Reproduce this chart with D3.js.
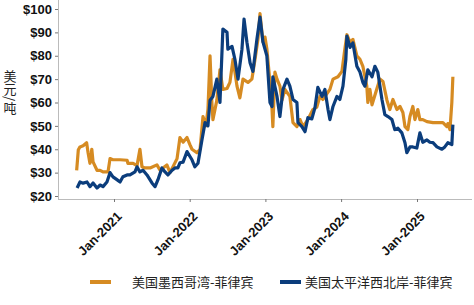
<!DOCTYPE html>
<html>
<head>
<meta charset="utf-8">
<script src="https://cdn.jsdelivr.net/npm/d3@7"></script>
<style>
  body { margin: 0; background: #fff; }
  svg { display: block; font-family: "Liberation Sans", Arial, sans-serif; }
</style>
</head>
<body>
<svg width="474" height="305"></svg>
<script>
// 美国墨西哥湾-菲律宾
const gulfDates = ['2020-07-05','2020-07-13','2020-07-21','2020-08-05','2020-08-22','2020-08-29','2020-09-07','2020-09-16','2020-09-22','2020-10-11','2020-10-26','2020-11-09','2020-12-03','2020-12-13','2020-12-27','2021-01-30','2021-03-05','2021-03-09','2021-04-03','2021-04-22','2021-05-06','2021-05-16','2021-05-30','2021-06-24','2021-07-27','2021-08-11','2021-09-13','2021-09-28','2021-11-01','2021-11-15','2021-11-30','2021-12-19','2022-01-02','2022-01-12','2022-02-05','2022-02-20','2022-03-06','2022-03-20','2022-03-30','2022-04-09','2022-04-18','2022-04-23','2022-05-12','2022-05-27','2022-06-10','2022-06-30','2022-07-14','2022-07-29','2022-08-17','2022-08-31','2022-09-15','2022-10-09','2022-10-28','2022-11-12','2022-11-26','2022-12-06','2022-12-20','2022-12-30','2023-01-08','2023-01-23','2023-02-02','2023-02-06','2023-02-16','2023-02-26','2023-03-12','2023-03-22','2023-04-05','2023-04-29','2023-05-14','2023-06-02','2023-06-17','2023-07-01','2023-07-25','2023-08-18','2023-09-06','2023-09-21','2023-10-05','2023-11-08','2023-11-23','2023-12-17','2024-01-05','2024-01-19','2024-01-29','2024-02-13','2024-02-27','2024-03-17','2024-04-01','2024-04-15','2024-05-04','2024-05-09','2024-05-19','2024-05-29','2024-06-22','2024-07-06','2024-07-21','2024-08-09','2024-08-23','2024-09-07','2024-09-26','2024-10-11','2024-10-25','2024-11-04','2024-11-18','2024-11-28','2024-12-12','2024-12-22','2025-01-05','2025-01-15','2025-01-29','2025-02-18','2025-03-19','2025-05-06','2025-05-25','2025-05-30','2025-06-09','2025-06-18','2025-06-23'];
const gulfValues = [31,39.8,41,41.5,42.8,38.5,34,40,34.6,31,31,30.3,30.3,36,35.5,35.5,35.3,34,34,33,40,32.5,32,32,33.3,31,33.3,30,36,45,43,45,42,40,38.5,40,54,50,57,80,60,52.7,61,74,65.6,66,68.6,78.5,67,62,70,68.6,70,78.5,87,98,86,88,83,68.6,57,49.7,73,70,67,61,65.6,62.6,51.4,49.7,52.7,49.7,52.7,57,58,62.6,61.3,65.6,70,71,73.3,82.8,89,85.8,87,80,78.5,75.5,67,60,65.6,59,66,70,69,61,57,61.3,57,58.3,55.7,49.7,48.4,54,58.3,52.7,57,52.7,52.7,51.8,51.4,51.4,49.7,51,48.4,60,71];

// 美国太平洋西北岸-菲律宾
const pnwDates = ['2020-07-07','2020-07-21','2020-08-05','2020-08-24','2020-09-07','2020-09-22','2020-10-11','2020-10-26','2020-11-09','2020-11-28','2020-12-13','2020-12-27','2021-01-15','2021-01-30','2021-02-13','2021-03-05','2021-03-19','2021-04-12','2021-04-22','2021-05-06','2021-05-21','2021-06-09','2021-07-03','2021-07-18','2021-08-01','2021-08-20','2021-09-04','2021-09-18','2021-10-08','2021-10-22','2021-11-05','2021-11-15','2021-11-30','2021-12-19','2022-01-12','2022-01-26','2022-02-10','2022-03-01','2022-03-16','2022-03-30','2022-04-09','2022-04-23','2022-05-12','2022-05-27','2022-06-10','2022-06-30','2022-07-04','2022-07-24','2022-08-07','2022-08-22','2022-09-10','2022-09-20','2022-10-04','2022-10-19','2022-11-02','2022-11-21','2022-12-06','2022-12-20','2023-01-08','2023-01-23','2023-02-02','2023-02-06','2023-02-26','2023-03-12','2023-03-27','2023-04-15','2023-04-29','2023-05-14','2023-06-02','2023-06-07','2023-06-26','2023-07-11','2023-07-25','2023-08-13','2023-08-28','2023-09-11','2023-10-01','2023-10-15','2023-10-30','2023-11-08','2023-11-23','2023-12-12','2023-12-26','2024-01-10','2024-01-24','2024-01-29','2024-02-13','2024-02-27','2024-03-17','2024-04-01','2024-04-15','2024-04-25','2024-05-09','2024-05-29','2024-06-12','2024-06-26','2024-07-16','2024-07-30','2024-08-14','2024-09-02','2024-09-16','2024-10-01','2024-10-20','2024-11-04','2024-11-13','2024-11-28','2024-12-12','2024-12-31','2025-01-15','2025-01-29','2025-02-18','2025-03-04','2025-03-19','2025-04-07','2025-05-01','2025-05-15','2025-05-30','2025-06-18','2025-06-23'];
const pnwValues = [23.4,26,25.5,26,24,25.6,23.4,24.7,24,26,30,28.2,27,26,28.2,29,29,30.3,32.5,30.3,31,29,25.6,24,27,32,30.3,29,31,32,32,34.2,34.5,39,35.5,32.5,34,44,51.4,50,61,62.6,70,60,91.4,90,82.8,84,78.5,70,82.8,95.7,85.8,77,73.3,87,96.5,86,80,60,58.3,71,62.6,54,65.6,70,67,61.3,60,51.4,49.7,47.5,53.5,53,57.8,66.5,62.6,65.6,57,52.7,58.3,62.6,61.3,67,78.5,88.4,83.6,85.5,75.5,73,68.6,67,74,71,75.5,73,61.3,54.8,54,52.7,48.4,49,47,42.8,38.5,41,41,40.5,47,43,44,43,42.8,41,40,41,42.8,42,50.5];

const yTicks = [20, 30, 40, 50, 60, 70, 80, 90, 100];
const xTickDates = ['2021-01-01', '2022-01-01', '2023-01-01', '2024-01-01', '2025-01-01'];
const seriesNames = ['美国墨西哥湾-菲律宾', '美国太平洋西北岸-菲律宾'];
const colors = ['#d68b22', '#0b3d7c'];

const parse = d3.timeParse('%Y-%m-%d');
const series = [
  gulfDates.map((d, i) => ({ date: parse(d), value: gulfValues[i] })),
  pnwDates.map((d, i) => ({ date: parse(d), value: pnwValues[i] })),
];

const svg = d3.select('svg');

const x = d3.scaleTime()
  .domain([parse('2021-01-01'), parse('2025-01-01')])
  .range([114, 417]);
const y = d3.scaleLinear().domain([20, 100]).range([196, 9]);

// x axis
const xAxis = svg.append('g')
  .attr('transform', 'translate(0,199)')
  .call(d3.axisBottom(x)
    .tickValues(xTickDates.map(parse))
    .tickFormat(d3.timeFormat('Jan-%Y'))
    .tickSize(3)
    .tickSizeOuter(0));
xAxis.select('.domain').attr('d', 'M58,0.5H472').attr('stroke', '#bbb');
xAxis.selectAll('.tick line').attr('stroke', '#777');
xAxis.selectAll('.tick text')
  .attr('font-size', 13)
  .attr('font-weight', 'bold')
  .attr('fill', '#111')
  .attr('text-anchor', 'end')
  .attr('dy', '0.35em')
  .attr('transform', 'translate(5,15) rotate(-45)')
  .attr('y', 0)
  .attr('x', 0);

// y axis
const yAxis = svg.append('g')
  .attr('transform', 'translate(58,0)')
  .call(d3.axisLeft(y)
    .tickValues(yTicks)
    .tickFormat(d => '$' + d)
    .tickSize(3)
    .tickPadding(3)
    .tickSizeOuter(0));
yAxis.select('.domain').attr('d', 'M0.5,0V199').attr('stroke', '#bbb');
yAxis.selectAll('.tick line').attr('stroke', '#777');
yAxis.selectAll('.tick text')
  .attr('font-size', 13)
  .attr('font-weight', 'bold')
  .attr('fill', '#111');

svg.append('text')
  .attr('x', 10)
  .attr('y', 70)
  .attr('font-size', 13)
  .attr('fill', '#222')
  .style('writing-mode', 'vertical-rl')
  .style('font-family', '"Noto Sans CJK SC", sans-serif')
  .text('美元/吨');

const line = d3.line()
  .x(d => x(d.date))
  .y(d => y(d.value));

series.forEach((s, i) => {
  svg.append('path')
    .datum(s)
    .attr('fill', 'none')
    .attr('stroke', colors[i])
    .attr('stroke-width', 3.2)
    .attr('stroke-linejoin', 'round')
    .attr('d', line);
});

// legend
const legendX = [90, 280];
const legend = svg.append('g').selectAll('g')
  .data(seriesNames)
  .enter().append('g')
  .attr('transform', (d, i) => `translate(${legendX[i]},282)`);
legend.append('line')
  .attr('x1', 0).attr('x2', 21)
  .attr('stroke', (d, i) => colors[i])
  .attr('stroke-width', 4);
legend.append('text')
  .attr('x', (d, i) => i === 0 ? 42 : 25)
  .attr('dy', '0.35em')
  .attr('font-size', 13)
  .attr('fill', '#222')
  .style('font-family', '"Noto Sans CJK SC", sans-serif')
  .text(d => d);
</script>
</body>
</html>
